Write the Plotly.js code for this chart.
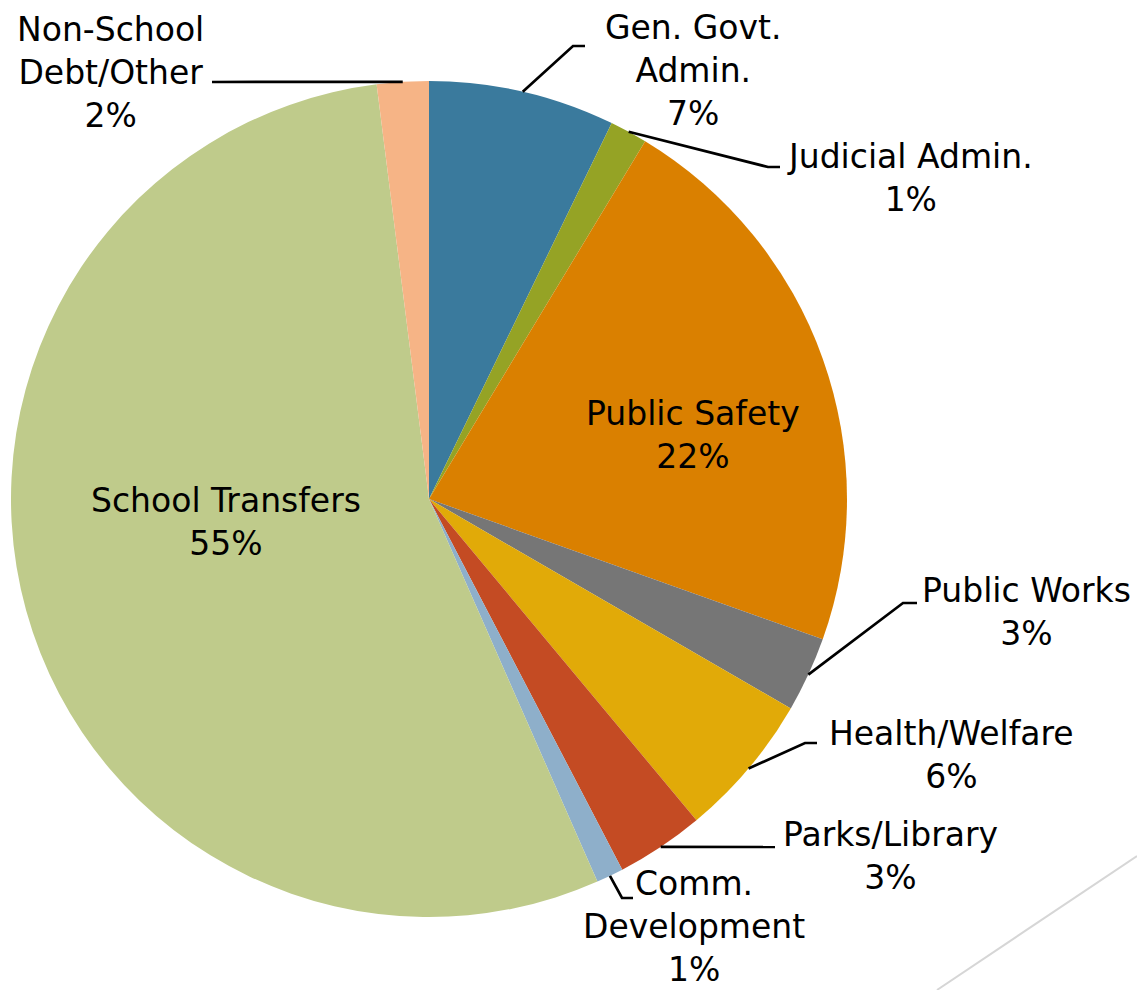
<!DOCTYPE html>
<html>
<head>
<meta charset="utf-8">
<script src="https://cdn.plot.ly/plotly-3.0.1.min.js"></script>
<style>
  html, body { margin: 0; padding: 0; background: #ffffff; }
  #chart { width: 1137px; height: 990px; }
</style>
</head>
<body>
<div id="chart"></div>
<script>
// ---- data ----
const categories = [
  "Gen. Govt.<br>Admin.",
  "Judicial Admin.",
  "Public Safety",
  "Public Works",
  "Health/Welfare",
  "Parks/Library",
  "Comm.<br>Development",
  "School Transfers",
  "Non-School<br>Debt/Other"
];
const values = [7.2, 1.45, 21.8, 2.9, 5.6, 3.4, 1.05, 54.6, 2.0];
const colors = ["#3A7A9D", "#95A325", "#DA8000", "#767676", "#E1AA08",
                "#C44B23", "#8EAFCA", "#BFCB8B", "#F6B486"];

// ---- layout (pixel positions of labels and leader line bends) ----
const W = 1137, H = 990;
const pieCenter = [429, 499], pieRadius = 418;
const labelPos = [
  [693, 70], [910, 178], [693, 435], [1026, 612], [951, 755],
  [891, 856], [694, 926], [226, 522], [110, 72]
];
// leader lines start at each slice's mid-angle on the rim, then run through these bends
const leaderBends = [
  [[573, 46], [585, 46]],
  [[768, 167], [780, 167]],
  null,
  [[903, 603], [917, 603]],
  [[805, 743], [817, 743]],
  [[775, 847]],
  [[622, 898], [633, 898]],
  null,
  [[212, 82]]
];

const px = x => x / W;
const py = y => 1 - y / H;

const total = values.reduce((a, b) => a + b, 0);
const pctText = values.map(v => Math.round(v / total * 100) + "%");

// mid-angle rim points from the data (clockwise from 12 o'clock)
const rimPoints = [];
let cum = 0;
values.forEach(v => {
  const mid = (cum + v / 2) / total * 2 * Math.PI;
  rimPoints.push([pieCenter[0] + pieRadius * Math.sin(mid),
                  pieCenter[1] - pieRadius * Math.cos(mid)]);
  cum += v;
});

const annotations = categories.map((c, i) => ({
  xref: "paper", yref: "paper",
  x: px(labelPos[i][0]), y: py(labelPos[i][1]),
  xanchor: "center", yanchor: "middle",
  text: c + "<br>" + pctText[i],
  showarrow: false,
  align: "center",
  borderpad: 0,
  font: { family: "DejaVu Sans, Verdana, sans-serif", size: 33, color: "#000000" }
}));

const shapes = [];
leaderBends.forEach((bends, i) => {
  if (!bends) return;
  const pts = [rimPoints[i]].concat(bends);
  const d = pts.map((p, k) => (k === 0 ? "M" : "L") + px(p[0]).toFixed(5) + "," + py(p[1]).toFixed(5)).join(" ");
  shapes.push({ type: "path", xref: "paper", yref: "paper", path: d,
                line: { color: "#000000", width: 2.7 } });
});
// decorative slide line bottom-right
shapes.push({ type: "line", xref: "paper", yref: "paper",
              x0: px(1137), y0: py(856), x1: px(937), y1: py(990),
              line: { color: "#D6D6D6", width: 2 } });

const trace = {
  type: "pie",
  labels: categories,
  values: values,
  sort: false,
  direction: "clockwise",
  rotation: 0,
  marker: { colors: colors, line: { width: 0 } },
  textinfo: "none",
  hoverinfo: "none",
  showlegend: false,
  domain: {
    x: [px(pieCenter[0] - pieRadius), px(pieCenter[0] + pieRadius)],
    y: [py(pieCenter[1] + pieRadius), py(pieCenter[1] - pieRadius)]
  }
};

const layout = {
  width: W, height: H,
  margin: { l: 0, r: 0, t: 0, b: 0, pad: 0 },
  paper_bgcolor: "#ffffff",
  plot_bgcolor: "#ffffff",
  showlegend: false,
  annotations: annotations,
  shapes: shapes
};

Plotly.newPlot("chart", [trace], layout, { displayModeBar: false, staticPlot: true });
</script>
</body>
</html>
